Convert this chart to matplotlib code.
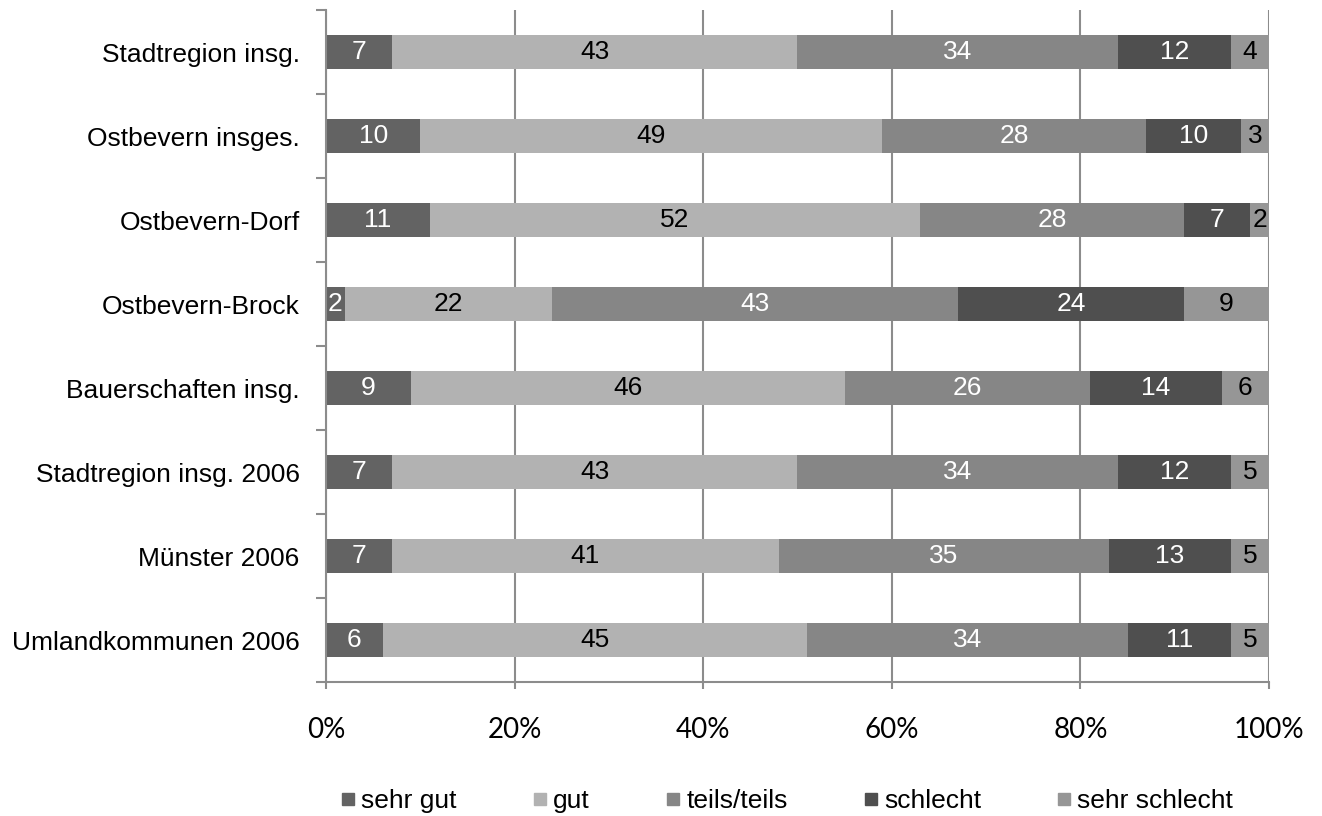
import numpy as np
import matplotlib.pyplot as plt
from matplotlib.lines import Line2D

categories = [
    "Stadtregion insg.",
    "Ostbevern insges.",
    "Ostbevern-Dorf",
    "Ostbevern-Brock",
    "Bauerschaften insg.",
    "Stadtregion insg. 2006",
    "Münster 2006",
    "Umlandkommunen 2006",
]
sehr_gut = [7, 10, 11, 2, 9, 7, 7, 6]
gut = [43, 49, 52, 22, 46, 43, 41, 45]
teils = [34, 28, 28, 43, 26, 34, 35, 34]
schlecht = [12, 10, 7, 24, 14, 12, 13, 11]
sehr_schlecht = [4, 3, 2, 9, 6, 5, 5, 5]

series_names = ["sehr gut", "gut", "teils/teils", "schlecht", "sehr schlecht"]
colors = ["#636363", "#b2b2b2", "#868686", "#4f4f4f", "#969696"]
text_colors = ["white", "black", "white", "white", "black"]
grid_gray = "#8c8c8c"

plt.rcParams["font.family"] = ["Liberation Sans", "DejaVu Sans"]

values = np.array([sehr_gut, gut, teils, schlecht, sehr_schlecht], dtype=float)

fig = plt.figure(figsize=(13.22, 8.16), dpi=100)
ax = fig.add_axes([0.2466, 0.1642, 0.7133, 0.8235])

# rounded percentages stacked as they are; rows summing to 101 get cut at 100%
y = np.arange(len(categories))
left = np.zeros(len(categories))
for i in range(len(series_names)):
    bars = ax.barh(y, values[i], left=left, height=0.4, color=colors[i],
                   label=series_names[i], zorder=2)
    if i < len(series_names) - 1:
        ax.bar_label(bars, labels=[str(int(v)) for v in values[i]],
                     label_type="center", color=text_colors[i], fontsize=19)
    else:
        # last segment: centre the label in the visible part
        for yi, l0, v in zip(y, left, values[i]):
            xc = (l0 + min(l0 + v, 100)) / 2
            ax.text(xc, yi, str(int(v)), ha="center", va="center",
                    color=text_colors[i], fontsize=19, zorder=3)
    left += values[i]

ax.set_xlim(0, 100)
ax.set_ylim(len(categories) - 0.5, -0.5)
ax.set_axisbelow(True)

ax.set_xticks(np.arange(0, 101, 20))
ax.set_xticklabels([f"{v}%" for v in range(0, 101, 20)], family="Lato", fontsize=20)
ax.tick_params(axis="x", direction="out", length=5, width=1.5, color=grid_gray, pad=20)
ax.grid(axis="x", color=grid_gray, linewidth=1.5)

ax.set_yticks(y)
ax.set_yticklabels(categories, fontsize=19)
ax.set_yticks(np.arange(-0.5, len(categories)), minor=True)
ax.tick_params(axis="y", which="major", length=0, pad=19)
ax.tick_params(axis="y", which="minor", direction="out", length=7, width=1.5, color=grid_gray)

for side in ["top", "right"]:
    ax.spines[side].set_visible(False)
for side in ["left", "bottom"]:
    ax.spines[side].set_color(grid_gray)
    ax.spines[side].set_linewidth(1.5)

handles = [Line2D([], [], linestyle="none", marker="s", markersize=9,
                  markerfacecolor=c, markeredgecolor=c) for c in colors]
fig.legend(handles, series_names, loc="center", bbox_to_anchor=(786 / 1322, 1 - 801 / 816),
           ncol=5, frameon=False, fontsize=19, columnspacing=2.8,
           handletextpad=0.15, handlelength=0.7)

fig.savefig("out.png", dpi=100)
